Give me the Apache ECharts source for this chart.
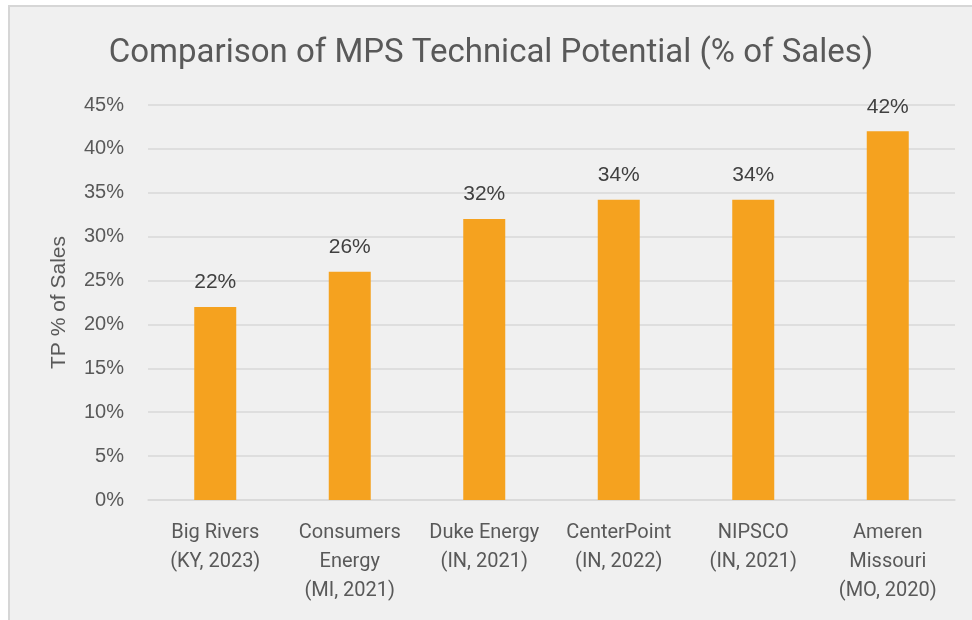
<!DOCTYPE html>
<html>
<head>
<meta charset="utf-8">
<script src="https://cdn.jsdelivr.net/npm/echarts@6/dist/echarts.min.js"></script>
<style>
html,body{margin:0;padding:0;background:#ffffff;width:972px;height:620px;overflow:hidden;}
#frame{position:absolute;left:8px;top:5px;width:964px;height:615px;background:#f0f0f0;border-left:2px solid #d6d6d6;border-top:2px solid #d6d6d6;box-sizing:border-box;}
#chart{position:absolute;left:0;top:0;width:962px;height:613px;}
</style>
</head>
<body>
<div id="frame"><div id="chart"></div></div>
<script>
const categories = ['Big Rivers\n(KY, 2023)', 'Consumers\nEnergy\n(MI, 2021)', 'Duke Energy\n(IN, 2021)', 'CenterPoint\n(IN, 2022)', 'NIPSCO\n(IN, 2021)', 'Ameren\nMissouri\n(MO, 2020)'];
const tpValues = [22, 26, 32, 34.2, 34.2, 42];
const dataLabels = ['22%', '26%', '32%', '34%', '34%', '42%'];

const chart = echarts.init(document.getElementById('chart'));
chart.setOption({
  backgroundColor: 'transparent',
  animation: false,
  title: {
    text: 'Comparison of MPS Technical Potential (% of Sales)',
    left: 'center',
    top: 25,
    textStyle: {fontFamily: 'Roboto', fontSize: 33, fontWeight: 'normal', color: '#595959'}
  },
  grid: {left: 138, right: 17, top: 98, bottom: 120},
  xAxis: {
    type: 'category',
    data: categories,
    axisLine: {lineStyle: {color: '#d9d9d9', width: 1.5}},
    axisTick: {show: false},
    axisLabel: {fontFamily: 'Roboto', fontSize: 20, color: '#595959', lineHeight: 29, margin: 18, interval: 0}
  },
  yAxis: {
    type: 'value',
    min: 0, max: 45, interval: 5,
    name: 'TP % of Sales',
    nameLocation: 'middle',
    nameGap: 78,
    nameTextStyle: {fontFamily: 'Liberation Sans', fontSize: 21, color: '#595959'},
    axisLine: {show: false},
    axisTick: {show: false},
    splitLine: {lineStyle: {color: '#d9d9d9', width: 1.5}},
    axisLabel: {fontFamily: 'Liberation Sans', fontSize: 20, color: '#595959', margin: 24, formatter: v => v + '%'}
  },
  series: [{
    type: 'bar',
    data: tpValues,
    barWidth: 42,
    itemStyle: {color: '#F5A21F'},
    label: {
      show: true, position: 'top', distance: 14,
      fontFamily: 'Liberation Sans', fontSize: 21, color: '#404040',
      formatter: p => dataLabels[p.dataIndex]
    }
  }]
});
</script>
</body>
</html>
